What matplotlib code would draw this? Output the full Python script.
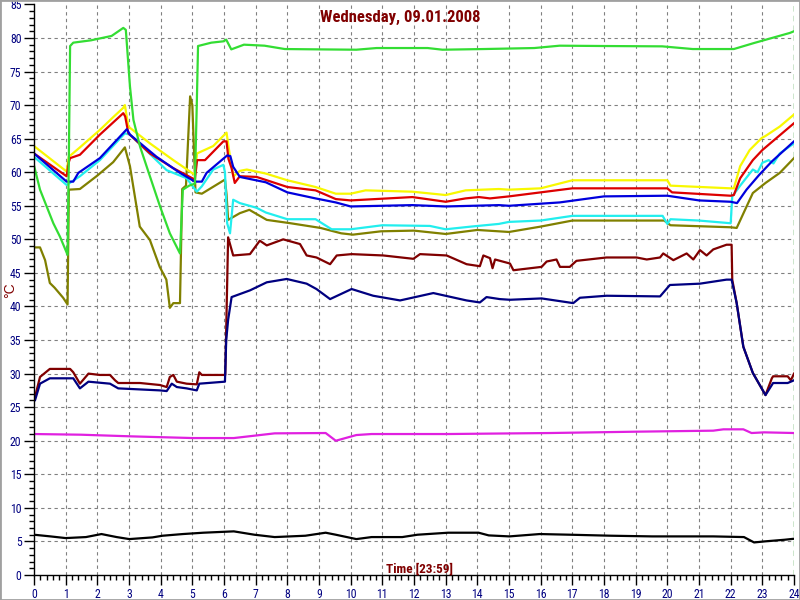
import matplotlib
matplotlib.use('Agg')
import matplotlib.pyplot as plt
from matplotlib import font_manager as fm
from matplotlib.ticker import MultipleLocator
from matplotlib.patches import Rectangle


def pick(names):
    for n in names:
        try:
            fm.findfont(fm.FontProperties(family=n), fallback_to_default=False)
            return n
        except Exception:
            pass
    return 'DejaVu Sans'


narrow = pick(['Liberation Sans Narrow', 'Roboto Condensed', 'Liberation Sans'])
sans = pick(['Liberation Sans', 'DejaVu Sans'])

title = 'Wednesday, 09.01.2008'
xlabel = 'Time [23:59]'
ylabel = '°C'
x_ticks = list(range(0, 25))
y_ticks = list(range(0, 90, 5))

# ---- series (time in hours, value in °C) ----
t_green = [0, 0.19, 0.4, 0.61, 0.82, 1.06, 1.1, 1.14, 1.24, 1.8, 2.45, 2.82, 2.9, 3.03, 3.14, 3.35,
           3.66, 3.98, 4.29, 4.61, 4.7, 4.9, 5.08, 5.14, 5.18, 5.6, 5.98, 6.07, 6.23, 6.63, 7.28,
           7.92, 9.0, 10.18, 10.82, 12.43, 12.9, 14.2, 15.8, 16.6, 18.0, 19.84, 20.8, 22.1, 22.74,
           23.87, 24]
v_green = [61, 57.4, 54.9, 52.4, 50.4, 47.7, 62, 78.8, 79.3, 79.65, 80.3, 81.5, 81.2, 72.8, 67.8, 63.8,
           59.4, 54.9, 50.9, 47.9, 57.4, 58.0, 58.3, 70, 78.8, 79.3, 79.5, 79.75, 78.3, 79.0, 78.85,
           78.35, 78.3, 78.25, 78.5, 78.5, 78.25, 78.35, 78.5, 78.85, 78.8, 78.75, 78.35, 78.35, 79.25,
           80.75, 81]

t_yellow = [0, 1.03, 1.1, 1.45, 2.08, 2.5, 2.82, 2.87, 2.98, 3.66, 4.4, 5.08, 5.15, 5.66, 6.08, 6.2,
            6.3, 6.5, 6.72, 7.32, 8.0, 8.89, 9.53, 10.0, 10.47, 11.95, 13.0, 13.63, 14.68, 15.0,
            16.0, 17.0, 19.0, 20.0, 20.1, 22.0, 22.1, 22.3, 22.6, 22.98, 23.1, 23.55, 24]
v_yellow = [63.9, 60.1, 62.3, 63.7, 66.3, 68.2, 69.6, 70.0, 66.8, 64.3, 61.8, 59.6, 62.8, 63.9, 65.9, 62.0,
            59.4, 60.2, 60.4, 59.8, 58.8, 57.8, 56.8, 56.8, 57.3, 57.1, 56.6, 57.3, 57.5, 57.4,
            57.6, 58.8, 58.8, 58.8, 58.0, 57.6, 57.6, 60.9, 63.3, 65.1, 65.4, 66.8, 68.6]

t_red = [0, 1.03, 1.1, 1.14, 1.45, 2.08, 2.82, 2.88, 2.98, 3.66, 4.4, 5.08, 5.15, 5.4, 5.98, 6.08,
         6.14, 6.24, 6.34, 6.5, 7.03, 8.0, 8.89, 9.53, 10.0, 11.95, 13.0, 13.63, 14.05, 14.4, 15.0,
         16.0, 17.0, 20.0, 20.15, 22.0, 22.1, 22.3, 22.7, 23.0, 23.45, 24]
v_red = [62.8, 59.4, 61.5, 62.1, 62.6, 65.6, 68.8, 68.3, 65.8, 62.8, 60.6, 58.9, 61.8, 61.8, 64.6, 64.6,
         62.0, 60.6, 58.4, 59.4, 59.3, 57.8, 57.3, 56.0, 55.8, 56.3, 55.6, 56.1, 56.3, 56.1, 56.4,
         57.0, 57.6, 57.6, 57.0, 56.5, 56.6, 59.1, 61.8, 63.3, 65.1, 67.3]

t_blue = [0, 1.03, 1.24, 1.4, 2.08, 2.93, 3.03, 3.87, 4.61, 5.08, 5.3, 5.45, 6.1, 6.2, 6.29, 6.5,
          7.32, 8.0, 8.89, 9.53, 10.0, 11.95, 13.0, 14.68, 15.0, 16.6, 18.0, 20.0, 21.0, 22.0,
          22.2, 22.5, 22.9, 23.3, 24]
v_blue = [62.8, 58.6, 58.6, 59.9, 62.1, 66.4, 65.6, 62.3, 59.9, 58.6, 58.6, 59.9, 62.5, 62.4, 60.8, 59.3,
          58.5, 57.0, 56.1, 55.5, 54.9, 55.1, 54.9, 55.1, 55.0, 55.5, 56.4, 56.5, 55.8, 55.6,
          55.4, 57.4, 59.6, 61.6, 64.6]

t_cyan = [0, 1.03, 1.45, 2.08, 2.87, 3.03, 4.19, 4.4, 4.82, 5.14, 5.3, 5.66, 5.98, 6.03, 6.1, 6.19,
          6.29, 6.5, 7.03, 7.32, 8.0, 8.89, 9.4, 10.0, 11.0, 12.5, 13.0, 13.8, 14.68, 15.0, 16.0,
          17.0, 19.85, 20.0, 20.1, 21.0, 22.0, 22.05, 22.3, 22.7, 22.85, 23.0, 23.2, 23.35, 23.55, 24]
v_cyan = [62.3, 58.1, 59.4, 61.8, 65.8, 65.6, 60.3, 59.9, 59.1, 57.1, 57.9, 60.4, 61.1, 60.0, 52.4, 50.9,
          55.9, 55.4, 54.7, 54.0, 53.0, 53.0, 51.5, 51.5, 52.1, 52.0, 51.5, 51.9, 52.3, 52.6, 52.8,
          53.5, 53.5, 52.3, 53.0, 52.8, 52.4, 56.4, 58.0, 60.4, 60.0, 61.4, 61.8, 61.3, 62.8, 64.3]

t_olive = [0, 0.19, 0.35, 0.5, 0.65, 0.92, 1.06, 1.1, 1.45, 2.0, 2.5, 2.87, 3.03, 3.34, 3.66, 3.97,
           4.18, 4.29, 4.4, 4.61, 4.68, 4.8, 4.93, 5.0, 5.1, 5.3, 6.03, 6.08, 6.13, 6.5, 6.8, 7.35,
           8.1, 9.05, 9.7, 10.07, 10.96, 12.0, 13.0, 14.0, 15.0, 16.0, 17.0, 18.0, 19.9, 20.1, 22.0,
           22.19, 22.7, 23.1, 23.55, 24]
v_olive = [48.8, 48.8, 46.9, 43.5, 42.8, 41.3, 40.3, 57.4, 57.5, 59.5, 61.5, 63.7, 60.9, 51.9, 49.9, 45.9,
           44.0, 39.8, 40.5, 40.5, 57.5, 58.0, 71.3, 70.0, 57.0, 56.8, 58.9, 56.7, 52.9, 53.9, 54.4, 52.9,
           52.4, 51.7, 50.9, 50.7, 51.2, 51.3, 50.8, 51.4, 51.1, 51.9, 52.8, 52.8, 52.8, 52.1, 51.8,
           51.7, 56.9, 58.4, 59.9, 62.1]

t_maroon = [0, 0.03, 0.19, 0.5, 1.14, 1.24, 1.45, 1.72, 2.08, 2.4, 2.56, 2.66, 3.35, 3.98, 4.19, 4.29,
            4.4, 4.51, 4.82, 5.14, 5.22, 5.3, 5.98, 6.04, 6.13, 6.29, 6.82, 7.13, 7.35, 7.87, 8.4,
            8.61, 8.92, 9.35, 9.56, 10.03, 11.03, 11.98, 12.19, 13.03, 13.66, 14.08, 14.19, 14.4,
            14.48, 14.56, 15.03, 15.14, 16.03, 16.19, 16.5, 16.61, 16.92, 17.13, 18.08, 19.03,
            19.35, 19.77, 19.87, 20.19, 20.61, 20.82, 21.03, 21.24, 21.45, 21.87, 22.03, 22.05,
            22.19, 22.4, 22.7, 23.1, 23.3, 23.34, 23.8, 23.9, 24]
v_maroon = [26.5, 26.5, 29.5, 30.7, 30.7, 30.2, 28.5, 30.0, 29.8, 29.8, 29.0, 28.6, 28.6, 28.3, 28.0, 29.5,
            29.8, 28.8, 28.5, 28.4, 30.2, 29.8, 29.8, 29.8, 50.3, 47.6, 47.8, 49.8, 49.1, 50.0, 49.3,
            47.6, 47.3, 46.3, 47.6, 47.8, 47.6, 47.1, 47.8, 47.6, 46.3, 46.0, 47.6, 47.2,
            45.7, 47.0, 46.4, 45.4, 45.9, 46.7, 47.0, 45.9, 45.9, 46.8, 47.3, 47.3,
            47.0, 47.3, 47.9, 46.9, 47.9, 47.0, 48.4, 47.6, 48.5, 49.2, 49.2, 44.0,
            40.5, 34.0, 30.1, 26.8, 29.3, 29.6, 29.6, 29.0, 30.0]

t_navy = [0, 0.03, 0.19, 0.5, 1.24, 1.45, 1.72, 2.4, 2.66, 3.98, 4.19, 4.35, 4.51, 4.82, 5.14, 5.22,
          6.03, 6.07, 6.13, 6.24, 6.82, 7.35, 7.98, 8.61, 8.92, 9.35, 10.03, 10.71, 11.56, 12.61,
          13.66, 14.08, 14.29, 14.71, 15.03, 16.03, 17.03, 17.24, 18.08, 19.77, 20.08, 21.03,
          21.87, 22.03, 22.19, 22.4, 22.7, 23.1, 23.34, 23.8, 24]
v_navy = [26.0, 26.0, 28.5, 29.3, 29.3, 27.8, 28.8, 28.5, 27.8, 27.5, 27.4, 28.5, 28.0, 27.8, 27.5, 28.5,
          28.8, 35.0, 38.0, 41.4, 42.4, 43.6, 44.1, 43.4, 42.6, 41.1, 42.6, 41.6, 40.9, 42.0,
          40.9, 40.6, 41.4, 41.1, 41.0, 41.2, 40.5, 41.3, 41.6, 41.5, 43.2, 43.4,
          44.0, 44.0, 40.5, 34.0, 30.1, 26.8, 28.6, 28.6, 29.0]

t_magenta = [0, 1.48, 3.09, 5.02, 6.31, 7.6, 9.21, 9.53, 10.18, 10.66, 13.07, 16.3, 19.03, 21.45,
             21.77, 22.4, 22.66, 23.06, 24]
v_magenta = [21.0, 20.9, 20.65, 20.4, 20.4, 21.1, 21.15, 20.0, 20.85, 21.0, 21.0, 21.15, 21.35, 21.5,
             21.7, 21.7, 21.15, 21.25, 21.15]

t_black = [0, 0.52, 1.0, 1.64, 2.13, 2.61, 3.01, 3.74, 4.06, 4.7, 5.35, 6.31, 6.96, 7.6, 8.57, 9.21,
           9.53, 10.18, 10.66, 11.63, 12.11, 13.08, 14.04, 14.36, 15.01, 15.97, 16.94, 18.23, 19.52,
           21.45, 22.42, 22.74, 23.06, 23.7, 24]
v_black = [6.0, 5.75, 5.5, 5.65, 6.1, 5.65, 5.35, 5.6, 5.85, 6.1, 6.3, 6.5, 6.0, 5.65, 5.85, 6.3,
           6.0, 5.35, 5.65, 5.65, 6.0, 6.3, 6.3, 5.9, 5.75, 6.1, 6.0, 5.85, 5.75,
           5.75, 5.65, 4.85, 5.0, 5.25, 5.4]

series = [
    (t_black, v_black, '#000000'),
    (t_magenta, v_magenta, '#e020e0'),
    (t_olive, v_olive, '#808000'),
    (t_cyan, v_cyan, '#22eeee'),
    (t_yellow, v_yellow, '#f8f800'),
    (t_red, v_red, '#dd0000'),
    (t_blue, v_blue, '#0000dd'),
    (t_maroon, v_maroon, '#800000'),
    (t_navy, v_navy, '#000080'),
    (t_green, v_green, '#33dd33'),
]

fig = plt.figure(figsize=(8, 6), dpi=100, facecolor='white')
ax = fig.add_axes([34 / 800, 1 - 575 / 600, 760 / 800, 570.6 / 600])
ax.set_xlim(0, 24)
ax.set_ylim(0, 85)

for v in y_ticks[1:-1]:
    ax.axhline(v, color='#808080', ls=(0, (3, 3)), lw=0.8, zorder=0)
for h in x_ticks[1:-1]:
    ax.axvline(h, color='#808080', ls=(0, (3, 3)), lw=0.8, zorder=0)
ax.axvline(24, color='#008000', ls=(0, (4, 3)), lw=1.0, zorder=0)

for t, v, c in series:
    ax.plot(t, v, color=c, lw=1.6, solid_joinstyle='round')

for s in ['top', 'right']:
    ax.spines[s].set_visible(False)
for s in ['left', 'bottom']:
    ax.spines[s].set_color('black')
    ax.spines[s].set_linewidth(1)

ax.set_xticks(x_ticks)
ax.set_xticklabels([str(x) for x in x_ticks])
ax.set_yticks(y_ticks)
ax.set_yticklabels([str(y) for y in y_ticks])
ax.xaxis.set_minor_locator(MultipleLocator(0.2))
ax.yaxis.set_minor_locator(MultipleLocator(1))
ax.tick_params(axis='both', which='major', direction='out', length=7, width=1,
               color='black', labelcolor='#000080', labelsize=8.5, pad=2)
ax.tick_params(axis='both', which='minor', direction='out', length=3.5, width=1, color='black')
for lab in ax.get_xticklabels() + ax.get_yticklabels():
    lab.set_fontfamily(narrow)

fig.text(400 / 800, 1 - 17 / 600, title, ha='center', va='center', color='#800000',
         fontweight='bold', fontsize=12, family=narrow)
fig.text(420 / 800, 1 - 569 / 600, xlabel, ha='center', va='center', color='#800000',
         fontweight='bold', fontsize=9.5, family=narrow)
fig.text(10 / 800, 1 - 290 / 600, ylabel, ha='center', va='center', color='#800000',
         fontsize=10, rotation=90, family=sans)

fig.patches.append(Rectangle((0, 0), 1, 1, transform=fig.transFigure, fill=False,
                             edgecolor='#a0a0a0', lw=2))

fig.savefig('out.png', dpi=100, facecolor='white')
